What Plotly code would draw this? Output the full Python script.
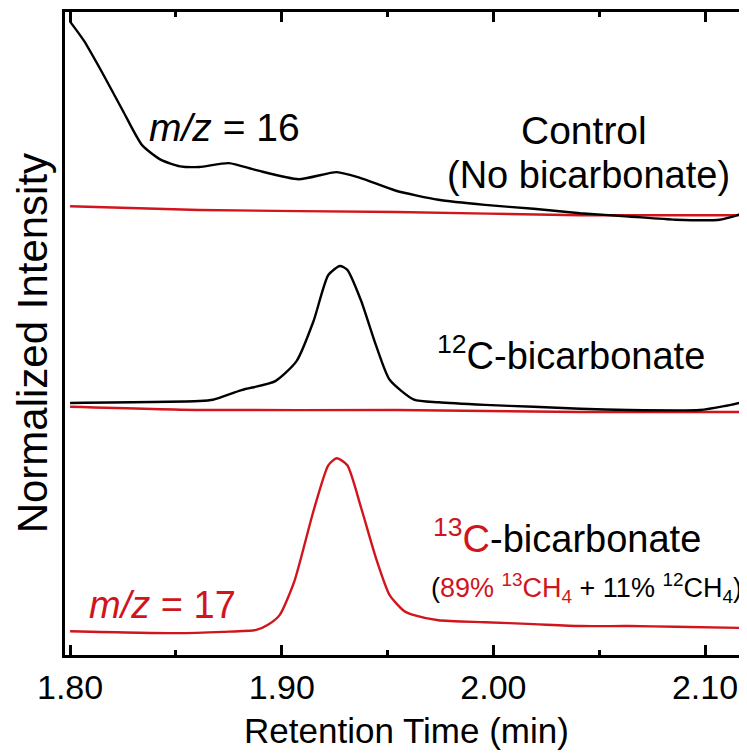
import plotly.graph_objects as go

RED = "#d0151c"
BLACK = "#000000"
FONT = "Liberation Sans, Arial, Helvetica, sans-serif"

# Retention time (min) and normalized intensity (stacked, arbitrary units)
t_ctrl16 = [1.800, 1.8066, 1.8158, 1.825, 1.834, 1.843, 1.852, 1.861, 1.875, 1.888,
            1.908, 1.926, 1.937, 1.954, 1.974, 1.996, 2.019, 2.041, 2.064, 2.086,
            2.107, 2.116, 2.120]
i_ctrl16 = [98.5, 95.5, 90.2, 84.6, 79.3, 77.0, 76.0, 75.9, 76.5, 75.4,
            74.0, 75.1, 74.2, 72.2, 70.8, 70.0, 69.4, 68.7, 68.2, 67.7,
            67.7, 68.5, 69.4]

t_ctrl17 = [1.800, 1.861, 1.954, 2.041, 2.120]
i_ctrl17 = [69.8, 69.2, 68.9, 68.4, 68.4]

t_c12_16 = [1.800, 1.861, 1.8675, 1.881, 1.897, 1.907, 1.915, 1.922, 1.9275, 1.931,
            1.9375, 1.9445, 1.951, 1.9625, 1.974, 1.996, 2.019, 2.041, 2.064, 2.0975,
            2.109, 2.120]
i_c12_16 = [39.2, 39.5, 39.7, 41.2, 42.6, 45.7, 51.9, 59.1, 60.5, 59.9,
            55.1, 48.2, 42.8, 39.7, 39.3, 38.9, 38.6, 38.3, 38.1, 38.1,
            38.7, 39.5]

t_c12_17 = [1.800, 1.861, 1.954, 2.041, 2.120]
i_c12_17 = [38.6, 38.1, 38.1, 37.8, 37.8]

t_c13_17 = [1.800, 1.850, 1.872, 1.888, 1.8935, 1.899, 1.906, 1.915, 1.922, 1.926,
            1.931, 1.9375, 1.9445, 1.951, 1.958, 1.9625, 1.974, 1.996, 2.019, 2.041,
            2.064, 2.086, 2.120]
i_c13_17 = [3.7, 3.4, 3.6, 3.9, 4.7, 6.2, 11.5, 22.4, 29.5, 30.6,
            29.5, 22.9, 15.1, 9.3, 6.8, 6.2, 5.4, 5.1, 4.8, 4.5,
            4.5, 4.4, 4.2]

x_ticks = [1.80, 1.90, 2.00, 2.10]
x_tick_labels = ["1.80", "1.90", "2.00", "2.10"]

fig = go.Figure()

def add(t, i, color):
    fig.add_trace(go.Scatter(x=t, y=i, mode="lines",
                             line=dict(color=color, width=2.4, shape="spline", smoothing=0.6),
                             showlegend=False, hoverinfo="skip"))

add(t_ctrl17, i_ctrl17, RED)
add(t_ctrl16, i_ctrl16, BLACK)
add(t_c12_17, i_c12_17, RED)
add(t_c12_16, i_c12_16, BLACK)
add(t_c13_17, i_c13_17, RED)

annotations = [
    dict(x=1.873, y=82.0, text="<i>m/z</i> = 16", font=dict(size=39, color=BLACK)),
    dict(x=2.043, y=81.6, text="Control", font=dict(size=39, color=BLACK)),
    dict(x=2.045, y=74.6, text="(No bicarbonate)", font=dict(size=38, color=BLACK)),
    dict(x=2.0367, y=47.0, text="<sup>12</sup>C-bicarbonate", font=dict(size=38, color=BLACK)),
    dict(x=2.035, y=18.5, text="<span style='color:%s'><sup>13</sup>C</span>-bicarbonate" % RED,
         font=dict(size=38, color=BLACK)),
    dict(x=2.044, y=10.4,
         text="(<span style='color:%s'>89%% <sup>13</sup>CH<sub>4</sub></span> + 11%% <sup>12</sup>CH<sub>4</sub>)" % RED,
         font=dict(size=27, color=BLACK)),
    dict(x=1.8437, y=7.8, text="<i>m/z</i> = 17", font=dict(size=38, color=RED)),
]
for a in annotations:
    a.update(xref="x", yref="y", showarrow=False, xanchor="center", yanchor="middle")

# y-axis title drawn as a rotated paper-referenced annotation for precise placement
annotations.append(dict(xref="paper", yref="paper", x=-0.048, y=0.485,
                        text="Normalized Intensity", textangle=-90, showarrow=False,
                        xanchor="center", yanchor="middle",
                        font=dict(size=42, family=FONT, color=BLACK)))

fig.update_layout(
    width=747, height=755,
    margin=dict(l=57, r=7, t=4, b=108, autoexpand=False),
    paper_bgcolor="white", plot_bgcolor="white",
    font=dict(family=FONT, color=BLACK),
    annotations=annotations,
    xaxis=dict(
        range=[1.7976, 2.1203], tickvals=x_ticks, ticktext=x_tick_labels,
        ticks="inside", ticklen=10, tickwidth=2.5, tickcolor=BLACK,
        minor=dict(dtick=0.05, tick0=1.80, ticks="inside", ticklen=5, tickwidth=2.5, tickcolor=BLACK),
        showline=True, linewidth=2.5, linecolor=BLACK, mirror="ticks",
        showgrid=False, zeroline=False,
        tickfont=dict(size=34, family=FONT, color=BLACK),
        title=dict(text="Retention Time (min)", font=dict(size=35, family=FONT, color=BLACK), standoff=14),
        automargin=False,
    ),
    yaxis=dict(
        range=[0, 100], showticklabels=False, ticks="",
        showline=True, linewidth=2.5, linecolor=BLACK, mirror=True,
        showgrid=False, zeroline=False,
        automargin=False,
    ),
)

fig.write_html("out.html")
